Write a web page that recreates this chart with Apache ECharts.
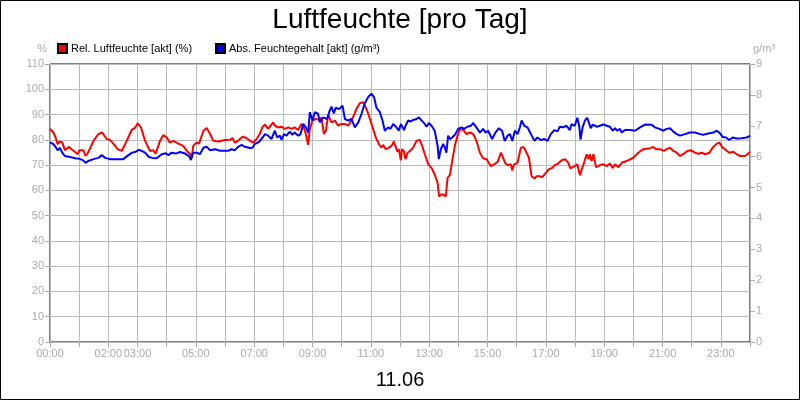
<!DOCTYPE html>
<html>
<head>
<meta charset="utf-8">
<script src="https://cdn.jsdelivr.net/npm/echarts@6/dist/echarts.min.js"></script>
<style>
html,body{margin:0;padding:0;background:#fff;}
#chart{width:800px;height:400px;}
</style>
</head>
<body>
<div id="chart"></div>
<script>
var titleText = 'Luftfeuchte [pro Tag]';
var dateText = '11.06';
var relName = 'Rel. Luftfeuchte [akt] (%)';
var absName = 'Abs. Feuchtegehalt [akt] (g/m³)';
var shownHours = [0, 2, 3, 5, 7, 9, 11, 13, 15, 17, 19, 21, 23];

var relTimes = [0.00,0.11,0.19,0.26,0.31,0.42,0.51,0.65,0.74,0.88,0.95,1.01,1.14,1.22,1.31,1.49,1.66,1.79,1.94,2.06,2.17,2.32,2.46,2.51,2.63,2.80,2.91,3.01,3.12,3.26,3.43,3.54,3.62,3.77,3.89,4.00,4.11,4.23,4.40,4.57,4.69,4.80,4.86,4.91,5.03,5.11,5.18,5.26,5.37,5.49,5.60,5.77,6.00,
6.17,6.26,6.34,6.45,6.60,6.74,6.85,6.97,7.08,7.19,7.29,7.37,7.48,7.54,7.65,7.71,7.82,7.94,8.05,8.17,8.28,8.39,8.51,8.62,8.70,8.77,8.85,8.91,9.00,9.11,9.23,9.31,9.39,9.46,9.54,9.65,9.77,9.88,9.99,10.11,10.22,10.30,10.39,10.51,10.62,10.74,10.79,10.87,10.97,11.08,11.17,11.29,11.37,11.42,11.51,11.59,11.71,11.79,
11.91,11.96,12.03,12.07,12.14,12.19,12.26,12.34,12.45,12.57,12.68,12.76,12.85,12.97,13.08,13.19,13.29,13.34,13.42,13.49,13.57,13.63,13.71,13.79,13.88,13.97,14.06,14.17,14.28,14.39,14.51,14.62,14.74,14.85,14.97,15.11,15.23,15.35,15.46,15.54,15.62,15.71,15.80,15.85,15.91,16.03,16.14,16.22,16.28,16.34,16.42,16.51,16.61,16.68,16.79,16.88,16.97,17.10,17.22,17.31,17.42,17.54,17.67,17.77,17.84,17.99,
18.08,18.17,18.23,18.31,18.40,18.46,18.51,18.57,18.63,18.72,18.86,18.97,19.09,19.20,19.29,19.37,19.49,19.60,19.77,20.00,20.17,20.34,20.57,20.69,20.78,20.91,21.05,21.14,21.26,21.37,21.49,21.60,21.71,21.85,21.97,22.11,22.23,22.34,22.46,22.61,22.72,22.86,22.95,23.06,23.18,23.29,23.43,23.54,23.66,23.83,23.94,24.00];
var relValues = [84.3,83,81,78.3,79.2,79,75.9,77.2,76.3,75,74.3,75.9,75.9,73.6,75,79.6,82.3,82.9,80.3,80,78.5,76.3,75.6,76.3,79.6,83.9,84.7,86.5,84.9,79.6,75.6,75.9,74.5,79.6,81.9,80.9,78.9,79.6,78.5,77.6,75.6,74.5,72.9,77.6,78.9,78.5,80.9,83.6,84.7,82.3,79.6,79.3,79.9,
80.0,80.7,78.9,79.6,81.2,80.7,79.6,78.9,80.3,82.3,85.2,86.0,84.3,84.9,86.9,85.6,84.9,85.2,84.3,84.9,84.3,84.9,83.9,86.3,84.9,82.3,78.0,84.3,87.6,88.3,87.9,88.9,82.3,83.6,90.0,86.9,87.6,85.6,86.3,86.3,85.6,86.9,88.9,92.3,94.5,94.9,95.6,91.6,88.3,84.3,80.9,78.0,76.9,78.0,76.3,76.7,77.6,79.3,
75.3,76.3,71.9,76.3,75.3,72.3,74.9,75.6,76.9,79.6,80.0,77.6,74.3,70.3,68.9,66.3,62.9,57.6,58.5,58.3,57.6,64.9,66.0,71.6,77.6,81.6,84.3,83.9,82.3,82.9,82.3,79.6,74.9,72.7,72.3,69.6,70.3,71.3,74.9,72.7,70.6,70.0,70.3,67.9,70.3,70.9,76.7,77.2,76.3,76.3,72.9,65.6,64.7,65.6,65.6,65.2,66.5,68.3,68.9,70.0,70.6,71.9,72.3,70.9,68.7,69.6,
70.3,66.0,68.3,70.9,74.3,72.3,74.3,71.6,74.3,69.2,70.0,70.3,69.6,70.6,68.9,70.3,69.2,70.9,71.6,72.9,74.9,76.3,76.7,77.2,76.3,76.3,75.6,76.3,76.9,75.6,74.9,73.6,74.3,75.6,75.9,74.9,74.5,74.9,74.3,74.9,76.9,78.5,78.9,76.9,75.9,74.9,75.3,74.3,73.6,73.6,74.5,75.3];

var absTimes = [0.00,0.11,0.19,0.26,0.34,0.42,0.51,0.69,0.86,1.01,1.14,1.22,1.31,1.49,1.66,1.77,1.89,2.06,2.29,2.51,2.69,2.82,2.94,3.05,3.14,3.26,3.39,3.51,3.66,3.83,3.97,4.06,4.17,4.31,4.46,4.63,4.77,4.83,4.91,5.03,5.14,5.26,5.37,5.49,5.66,5.83,6.00,
6.11,6.22,6.34,6.45,6.57,6.68,6.85,6.94,7.02,7.14,7.25,7.37,7.48,7.59,7.71,7.79,7.88,7.94,8.02,8.11,8.22,8.31,8.39,8.51,8.59,8.68,8.77,8.85,8.91,9.00,9.08,9.19,9.25,9.37,9.50,9.57,9.65,9.73,9.80,9.91,10.03,10.11,10.22,10.34,10.45,10.57,10.68,10.79,10.91,11.02,11.11,11.19,11.31,11.40,11.48,11.59,11.67,11.77,11.88,
11.96,12.03,12.07,12.14,12.19,12.28,12.37,12.45,12.57,12.65,12.74,12.85,12.91,12.99,13.08,13.19,13.29,13.33,13.40,13.48,13.54,13.59,13.65,13.71,13.79,13.90,13.99,14.11,14.20,14.31,14.43,14.51,14.62,14.74,14.85,14.93,15.02,15.16,15.27,15.39,15.50,15.59,15.69,15.77,15.85,15.94,16.03,16.11,16.17,16.26,16.37,16.49,16.61,16.71,16.83,16.95,17.06,17.17,17.29,17.40,17.48,17.59,17.71,17.82,17.88,17.99,
18.08,18.15,18.19,18.26,18.34,18.42,18.49,18.54,18.61,18.74,18.86,18.97,19.09,19.20,19.29,19.37,19.45,19.54,19.60,19.71,19.89,20.06,20.23,20.40,20.63,20.74,20.89,21.03,21.14,21.26,21.37,21.49,21.60,21.77,21.94,22.11,22.29,22.40,22.57,22.74,22.86,22.95,23.06,23.18,23.29,23.41,23.54,23.71,23.89,24.00];
var absValues = [6.46,6.41,6.32,6.21,6.28,6.13,6.02,5.99,5.95,5.93,5.88,5.80,5.86,5.92,5.96,6.05,5.96,5.92,5.92,5.92,6.05,6.13,6.16,6.22,6.19,6.13,5.99,5.96,5.95,6.08,6.11,6.05,6.13,6.10,6.15,6.10,6.02,5.89,6.13,6.13,6.08,6.29,6.32,6.21,6.24,6.19,6.19,
6.19,6.24,6.21,6.32,6.38,6.32,6.28,6.29,6.41,6.46,6.57,6.73,6.68,6.57,6.84,6.62,6.68,6.54,6.73,6.68,6.81,6.71,6.78,6.68,6.73,7.06,6.95,6.78,7.44,7.17,7.44,7.39,7.11,7.27,7.22,7.44,7.62,7.40,7.59,7.54,7.65,7.22,7.17,7.22,6.95,7.11,7.39,7.72,7.93,8.04,7.93,7.59,7.44,7.17,6.84,6.95,6.90,7.06,6.95,
6.84,7.06,7.00,6.86,7.00,7.17,7.14,7.19,7.22,7.27,7.17,7.06,6.97,7.09,7.00,6.84,6.35,5.92,6.24,6.41,6.29,6.13,6.68,6.57,6.62,6.73,6.90,6.95,6.90,6.97,7.00,7.09,6.95,6.78,6.90,6.78,6.84,6.57,6.78,6.92,6.84,6.51,6.68,6.73,6.51,6.84,6.73,6.95,7.17,7.00,6.95,6.73,6.51,6.62,6.54,6.57,6.51,6.73,6.86,6.82,6.97,6.95,7.00,6.86,7.05,7.00,
7.26,6.95,6.55,6.95,7.17,7.26,7.06,6.92,7.04,6.97,7.00,7.04,7.00,6.97,6.84,6.92,6.84,6.90,6.78,6.86,6.86,6.84,6.95,7.04,7.03,6.95,6.90,6.84,6.90,6.92,6.81,6.73,6.68,6.73,6.78,6.78,6.73,6.71,6.75,6.78,6.84,6.78,6.64,6.62,6.54,6.62,6.59,6.60,6.62,6.68];

function pairs(t, v) { return t.map(function (x, i) { return [x, v[i]]; }); }
function pad2(n) { return (n < 10 ? '0' : '') + n; }

var FONT = "'Liberation Sans', Arial, sans-serif";
var GREY = '#aaaaaa';
var GRID = '#bbbbbb';

var chart = echarts.init(document.getElementById('chart'), null, {renderer: 'canvas'});
chart.setOption({
  animation: false,
  backgroundColor: '#fff',
  textStyle: {fontFamily: FONT},
  title: [
    {text: titleText, left: 'center', top: 1, textStyle: {fontFamily: FONT, fontSize: 28, fontWeight: 'normal', color: '#000'}},
    {text: dateText, left: 'center', top: 365, textStyle: {fontFamily: FONT, fontSize: 20, fontWeight: 'normal', color: '#000'}}
  ],
  legend: [
    {data: [relName], left: 52, top: 38, itemWidth: 9, itemHeight: 9, itemGap: 4, icon: 'rect',
     textStyle: {fontFamily: FONT, fontSize: 11, color: '#000', padding: [0, 0, 0, -1]}},
    {data: [absName], left: 210, top: 38, itemWidth: 9, itemHeight: 9, icon: 'rect',
     textStyle: {fontFamily: FONT, fontSize: 11, color: '#000', padding: [0, 0, 0, -1]}}
  ],
  graphic: [{type: 'rect', shape: {x: 0.5, y: 0.5, width: 799, height: 399}, style: {fill: 'none', stroke: '#000', lineWidth: 1}, z: 100}],
  grid: {left: 50, right: 50, top: 64, bottom: 58, show: true, borderColor: '#000', borderWidth: 1, backgroundColor: 'transparent'},
  xAxis: {
    type: 'value', min: 0, max: 24, interval: 1,
    axisLine: {show: false},
    axisTick: {show: true, length: 5, lineStyle: {color: GREY}},
    splitLine: {show: true, lineStyle: {color: GRID, width: 1}},
    axisLabel: {color: GREY, fontSize: 11, fontFamily: FONT, margin: 6, showMaxLabel: true,
      formatter: function (v) { return shownHours.indexOf(v) >= 0 ? pad2(v) + ':00' : ''; }}
  },
  yAxis: [
    {type: 'value', min: 0, max: 110, interval: 10, name: '%', nameLocation: 'end', nameGap: 10,
     nameTextStyle: {color: GREY, fontSize: 11, fontFamily: FONT, align: 'right', padding: [0, 3, 0, 0]},
     axisLine: {show: false}, axisTick: {show: true, length: 5, lineStyle: {color: GREY}},
     splitLine: {show: true, lineStyle: {color: GRID, width: 1}},
     axisLabel: {color: GREY, fontSize: 11, fontFamily: FONT, margin: 6}},
    {type: 'value', min: 0, max: 9, interval: 1, name: 'g/m³', nameLocation: 'end', nameGap: 10,
     nameTextStyle: {color: GREY, fontSize: 11, fontFamily: FONT, align: 'left', padding: [0, 0, 0, 3]},
     axisLine: {show: false}, axisTick: {show: true, length: 5, lineStyle: {color: GREY}},
     splitLine: {show: false},
     axisLabel: {color: GREY, fontSize: 11, fontFamily: FONT, margin: 6}}
  ],
  series: [
    {name: relName, type: 'line', yAxisIndex: 0, data: pairs(relTimes, relValues), showSymbol: false, symbol: 'none',
     lineStyle: {color: '#ff0000', width: 2}, itemStyle: {color: '#ff0000', borderColor: '#000', borderWidth: 0.5}},
    {name: absName, type: 'line', yAxisIndex: 1, data: pairs(absTimes, absValues), showSymbol: false, symbol: 'none',
     lineStyle: {color: '#0000ff', width: 2}, itemStyle: {color: '#0000ff', borderColor: '#000', borderWidth: 0.5}}
  ]
});
</script>
</body>
</html>
